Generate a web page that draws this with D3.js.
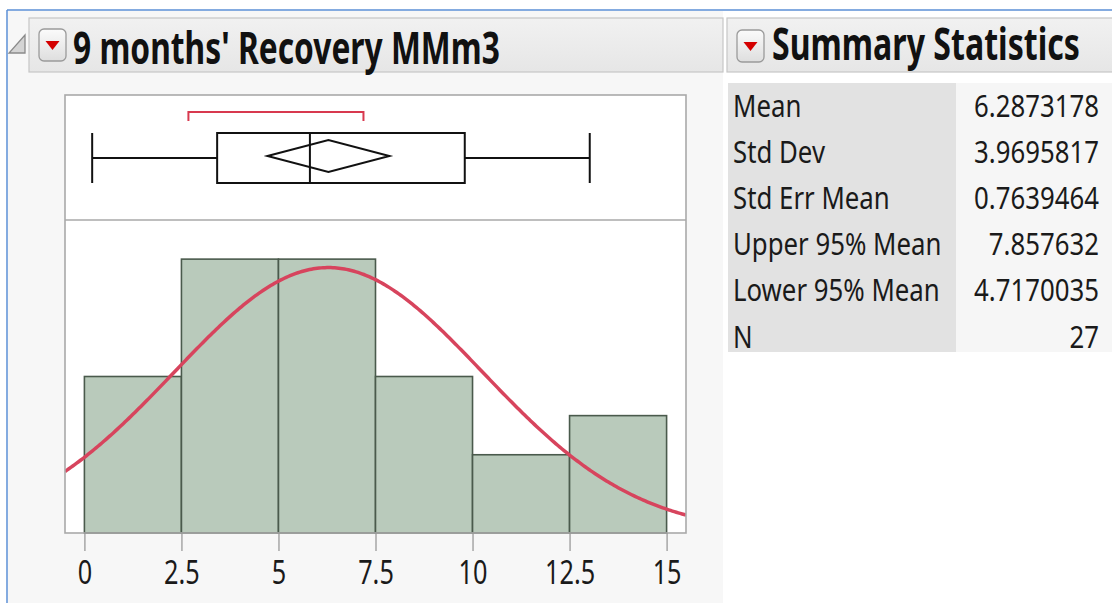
<!DOCTYPE html>
<html>
<head>
<meta charset="utf-8">
<script src="https://cdn.jsdelivr.net/npm/d3@7"></script>
<style>
  html, body { margin: 0; padding: 0; background: #ffffff; }
  svg { display: block; }
  text { font-family: "Noto Sans", "Open Sans", sans-serif; }
</style>
</head>
<body>
<svg id="chart" width="1112" height="603"></svg>
<script>
// ---------------- data ----------------
const titleText = "9 months' Recovery MMm3";
const statsTitle = "Summary Statistics";
const binEdges = [0, 2.5, 5, 7.5, 10, 12.5, 15];
const binCounts = [4, 7, 7, 4, 2, 3];
const tickValues = [0, 2.5, 5, 7.5, 10, 12.5, 15];
const tickLabels = ["0", "2.5", "5", "7.5", "10", "12.5", "15"];
const quantiles = [0.2, 3.42, 5.81, 9.8, 13.02]; // min, q1, median, q3, max
const shortestHalf = [2.68, 7.19];
const statLabels = ["Mean", "Std Dev", "Std Err Mean", "Upper 95% Mean", "Lower 95% Mean", "N"];
const statValues = ["6.2873178", "3.9695817", "0.7639464", "7.857632", "4.7170035", "27"];

const mean = +statValues[0], sd = +statValues[1], upper95 = +statValues[3], lower95 = +statValues[4], nObs = +statValues[5];

// ---------------- drawing ----------------
const svg = d3.select("#chart");

// page backgrounds / frame
svg.append("rect").attr("x", 0).attr("y", 0).attr("width", 1112).attr("height", 603).attr("fill", "#ffffff");
svg.append("rect").attr("x", 8).attr("y", 11).attr("width", 715).attr("height", 592).attr("fill", "#f7f7f7");
svg.append("line").attr("x1", 7).attr("x2", 1112).attr("y1", 10).attr("y2", 10).attr("stroke", "#5b8fd6").attr("stroke-width", 1.5);
svg.append("line").attr("x1", 7).attr("x2", 7).attr("y1", 10).attr("y2", 603).attr("stroke", "#5b8fd6").attr("stroke-width", 1.5);

// gradient for bars / buttons
const defs = svg.append("defs");
const grad = defs.append("linearGradient").attr("id", "btn").attr("x1", 0).attr("x2", 0).attr("y1", 0).attr("y2", 1);
grad.append("stop").attr("offset", "0%").attr("stop-color", "#fbfbfb");
grad.append("stop").attr("offset", "100%").attr("stop-color", "#dedede");
const hgrad = defs.append("linearGradient").attr("id", "hdr").attr("x1", 0).attr("x2", 0).attr("y1", 0).attr("y2", 1);
hgrad.append("stop").attr("offset", "0%").attr("stop-color", "#f1f1f1");
hgrad.append("stop").attr("offset", "100%").attr("stop-color", "#e6e6e6");

// title bars
function titleBar(x, w) {
  svg.append("rect").attr("x", x).attr("y", 18).attr("width", w).attr("height", 54)
    .attr("fill", "url(#hdr)").attr("stroke", "#c6c6c6").attr("stroke-width", 1.2);
}
titleBar(29, 694);
titleBar(727, 390);

// disclosure triangle
svg.append("path").attr("d", "M25,35 L25,53 L9,53 Z").attr("fill", "#d4d4d4").attr("stroke", "#8a8a8a").attr("stroke-width", 1.3);

function redButton(x, y) {
  svg.append("rect").attr("x", x).attr("y", y).attr("width", 27).attr("height", 32).attr("rx", 5)
    .attr("fill", "url(#btn)").attr("stroke", "#9a9a9a").attr("stroke-width", 1.3);
  const cx = x + 13.5, cy = y + 16;
  svg.append("path").attr("d", `M${cx - 7},${cy - 4} L${cx + 7},${cy - 4} L${cx},${cy + 5} Z`).attr("fill", "#d40000");
}
redButton(39, 29);
redButton(737, 30);

function fitText(sel, target) {
  const w = sel.node().getComputedTextLength();
  return target / w;
}

// titles
const t1g = svg.append("g");
const t1 = t1g.append("text").attr("font-size", 44).attr("font-weight", "bold").attr("fill", "#111").text(titleText);
t1g.attr("transform", `translate(73,64) scale(${fitText(t1, 427)},1)`);

const t2g = svg.append("g");
const t2 = t2g.append("text").attr("font-size", 44).attr("font-weight", "bold").attr("fill", "#111").text(statsTitle);
t2g.attr("transform", `translate(772,60) scale(${fitText(t2, 308)},1)`);

// ---------------- plot ----------------
const x = d3.scaleLinear().domain([-0.5, 15.5]).range([65, 686]);
const y = d3.scaleLinear().domain([0, 8]).range([533, 220]);

const frameTop = 95, divider = 220, frameBottom = 533;
svg.append("rect").attr("x", 65).attr("y", frameTop).attr("width", 621).attr("height", frameBottom - frameTop)
  .attr("fill", "#ffffff");

// bars
const bins = binCounts.map((c, i) => ({ x0: binEdges[i], x1: binEdges[i + 1], c }));
svg.append("g").selectAll("rect").data(bins).join("rect")
  .attr("x", d => x(d.x0)).attr("width", d => x(d.x1) - x(d.x0))
  .attr("y", d => y(d.c)).attr("height", d => y(0) - y(d.c))
  .attr("fill", "#b9cabb").attr("stroke", "#4a5a4c").attr("stroke-width", 1.6);

// normal curve
defs.append("clipPath").attr("id", "clipHist").append("rect")
  .attr("x", 65).attr("y", divider).attr("width", 621).attr("height", frameBottom - divider);
const binW = binEdges[1] - binEdges[0];
const xs = d3.range(-0.5, 15.55, 0.05);
const pts = xs.map(v => [v, nObs * binW * Math.exp(-0.5 * ((v - mean) / sd) ** 2) / (sd * Math.sqrt(2 * Math.PI))]);
svg.append("path").attr("clip-path", "url(#clipHist)")
  .attr("d", d3.line().x(d => x(d[0])).y(d => y(d[1]))(pts))
  .attr("fill", "none").attr("stroke", "#d7445d").attr("stroke-width", 3.5);

// frame border and divider
svg.append("rect").attr("x", 65).attr("y", frameTop).attr("width", 621).attr("height", frameBottom - frameTop)
  .attr("fill", "none").attr("stroke", "#a9a9a9").attr("stroke-width", 1.6);
svg.append("line").attr("x1", 65).attr("x2", 686).attr("y1", divider).attr("y2", divider)
  .attr("stroke", "#a9a9a9").attr("stroke-width", 1.6);

// box plot
const bc = 158, bh = 25;
const bp = svg.append("g").attr("stroke", "#111").attr("stroke-width", 2).attr("fill", "none");
bp.append("line").attr("x1", x(quantiles[0])).attr("x2", x(quantiles[1])).attr("y1", bc).attr("y2", bc);
bp.append("line").attr("x1", x(quantiles[3])).attr("x2", x(quantiles[4])).attr("y1", bc).attr("y2", bc);
bp.append("line").attr("x1", x(quantiles[0])).attr("x2", x(quantiles[0])).attr("y1", bc - bh).attr("y2", bc + bh);
bp.append("line").attr("x1", x(quantiles[4])).attr("x2", x(quantiles[4])).attr("y1", bc - bh).attr("y2", bc + bh);
bp.append("rect").attr("x", x(quantiles[1])).attr("y", bc - bh).attr("width", x(quantiles[3]) - x(quantiles[1])).attr("height", 2 * bh);
bp.append("line").attr("x1", x(quantiles[2])).attr("x2", x(quantiles[2])).attr("y1", bc - bh).attr("y2", bc + bh);
const dc = 156, dh = 16;
bp.append("path").attr("d", `M${x(lower95)},${dc} L${x(mean)},${dc - dh} L${x(upper95)},${dc} L${x(mean)},${dc + dh} Z`);

// shortest half bracket
svg.append("path")
  .attr("d", `M${x(shortestHalf[0])},121 L${x(shortestHalf[0])},112 L${x(shortestHalf[1])},112 L${x(shortestHalf[1])},121`)
  .attr("fill", "none").attr("stroke", "#d8394f").attr("stroke-width", 2);

// axis
const axis = d3.axisBottom(x).tickValues(tickValues).tickSize(18).tickPadding(10)
  .tickFormat((d, i) => tickLabels[i]);
const ag = svg.append("g").attr("transform", `translate(0,${frameBottom})`).call(axis);
ag.select(".domain").remove();
ag.selectAll(".tick line").attr("stroke", "#9a9a9a").attr("stroke-width", 1.3);
ag.selectAll(".tick text").attr("font-size", 32).attr("fill", "#1a1a1a")
  .attr("font-family", "'Noto Sans', sans-serif").attr("transform", "scale(0.79,1)");

// ---------------- summary table ----------------
svg.append("rect").attr("x", 728).attr("y", 83).attr("width", 228).attr("height", 269).attr("fill", "#e2e2e2");
svg.append("rect").attr("x", 956).attr("y", 83).attr("width", 156).attr("height", 269).attr("fill", "#f6f6f6");

const rowY = i => 117 + i * 46.1;
const lab = svg.append("g").selectAll("g").data(statLabels).join("g")
  .attr("transform", (d, i) => `translate(733,${rowY(i)}) scale(0.86,1)`);
lab.append("text").attr("font-size", 30).attr("fill", "#1a1a1a").text(d => d);

const val = svg.append("g").selectAll("g").data(statValues).join("g")
  .attr("transform", (d, i) => `translate(1099,${rowY(i)}) scale(0.86,1)`);
val.append("text").attr("font-size", 30).attr("fill", "#1a1a1a").attr("text-anchor", "end").text(d => d);
</script>
</body>
</html>
